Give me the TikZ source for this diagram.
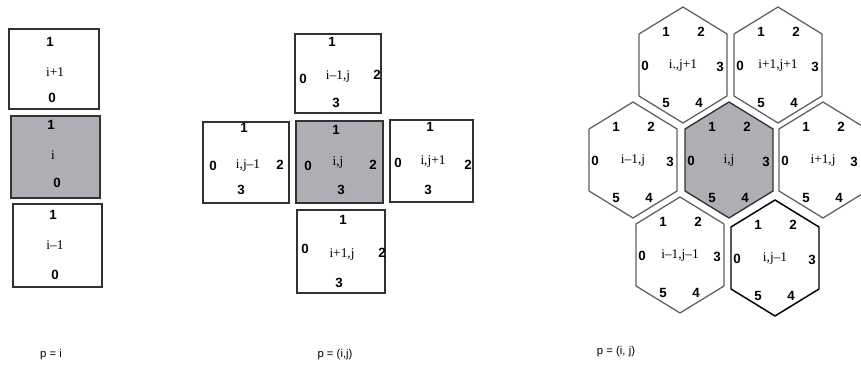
\documentclass[tikz,border=0pt]{standalone}
\usepackage{fontspec}
\setmainfont{Liberation Serif}
\newfontfamily\numfont{Liberation Sans}
\definecolor{shade}{RGB}{174,175,180}
\definecolor{edge}{RGB}{50,50,50}
\definecolor{hexedge}{RGB}{95,95,95}
\begin{document}
\begin{tikzpicture}[x=0.75pt,y=-0.75pt,
  cell/.style={draw=edge, line width=0.95pt},
  hot/.style={fill=shade},
  num/.style={font=\numfont\bfseries\fontsize{10}{12}\selectfont, inner sep=0},
  lab/.style={font=\fontsize{10}{12}\selectfont, inner sep=0},
  captxt/.style={font=\numfont\fontsize{8.5}{10}\selectfont, inner sep=0},
  hexline/.style={draw=hexedge, line width=0.95pt, line join=round},
  hexfill/.style={},
  h3x/.store in=\hthreex, h3x=37,
  hexcell/.pic={
    \path[hexline, hexfill] (0,-58) -- (44,-31) -- (44,31) -- (0,58) -- (-44,31) -- (-44,-31) -- cycle;
    \node[num] (-n1) at (-17,-33) {1};
    \node[num] (-n2) at (18,-33) {2};
    \node[num] (-n0) at (-38,1) {0};
    \node[num] (-n3) at (\hthreex,2) {3};
    \node[num] (-n5) at (-17,38) {5};
    \node[num] (-n4) at (16,38) {4};
    \node[lab] (-c) at (0,1) {#1};
  }]
\useasboundingbox (0,0) rectangle (861,381);

% ---- left column: p = i
\draw[cell] (9,29) rectangle (99,109);
\node[num] (a1t) at (50,42) {1};
\node[lab] (a1c) at (55,72) {i+1};
\node[num] (a1b) at (52,98) {0};
\draw[cell,hot] (11,116) rectangle (100,198);
\node[num] (a2t) at (51,125) {1};
\node[lab] (a2c) at (53,155) {i};
\node[num] (a2b) at (57,183) {0};
\draw[cell] (13,204) rectangle (102,287);
\node[num] (a3t) at (53,215) {1};
\node[lab] (a3c) at (55,245) {i–1};
\node[num] (a3b) at (55,275) {0};

% ---- middle: p = (i,j)
\draw[cell] (295,34) rectangle (381,113);
\node[num] (t1) at (332,42) {1};
\node[num] (t0) at (303,79) {0};
\node[lab] (tc) at (338,77) {i–1,j};
\node[num] (t2) at (377,75) {2};
\node[num] (t3) at (336,103) {3};

\draw[cell] (203,122) rectangle (289,203);
\node[num] (l1) at (244,128) {1};
\node[num] (l0) at (213,166) {0};
\node[lab] (lc) at (248,166) {i,j–1};
\node[num] (l2) at (280,165) {2};
\node[num] (l3) at (241,190) {3};

\draw[cell,hot] (296,121) rectangle (383,203);
\node[num] (m1) at (336,130) {1};
\node[num] (m0) at (308,166) {0};
\node[lab] (mc) at (338,163) {i,j};
\node[num] (m2) at (373,165) {2};
\node[num] (m3) at (341,190) {3};

\draw[cell] (390,120) rectangle (473,202);
\node[num] (r1) at (430,127) {1};
\node[num] (r0) at (398,163) {0};
\node[lab] (rc) at (433,162) {i,j+1};
\node[num] (r2) at (468,165) {2};
\node[num] (r3) at (428,190) {3};

\draw[cell] (297,210) rectangle (385,293);
\node[num] (b1) at (343,220) {1};
\node[num] (b0) at (305,249) {0};
\node[lab] (bc) at (342,255) {i+1,j};
\node[num] (b2) at (382,253) {2};
\node[num] (b3) at (339,283) {3};

% ---- right: hexagonal cells
\pic (h1) at (683,65) {hexcell={i.,j+1}};
\pic (h2) at (778,65) {hexcell={i+1,j+1}};
\pic (h3) at (633,160) {hexcell={i–1,j}};
\pic[hexfill/.style={fill=shade}, hexline/.style={draw=edge, line width=1pt, line join=round}] (h4) at (729,160) {hexcell={i,j}};
\pic[h3x=31] (h5) at (823,160) {hexcell={i+1,j}};
\pic (h6) at (680,255) {hexcell={i–1,j–1}};
\pic[hexline/.style={draw=black, line width=1.1pt, line join=round}] (h7) at (775,258) {hexcell={i,j–1}};

% ---- captions
\node[captxt] (capA) at (51,355) {p = i};
\node[captxt] (capB) at (335,355) {p = (i,j)};
\node[captxt] (capC) at (616,352) {p = (i, j)};
\end{tikzpicture}
\end{document}
